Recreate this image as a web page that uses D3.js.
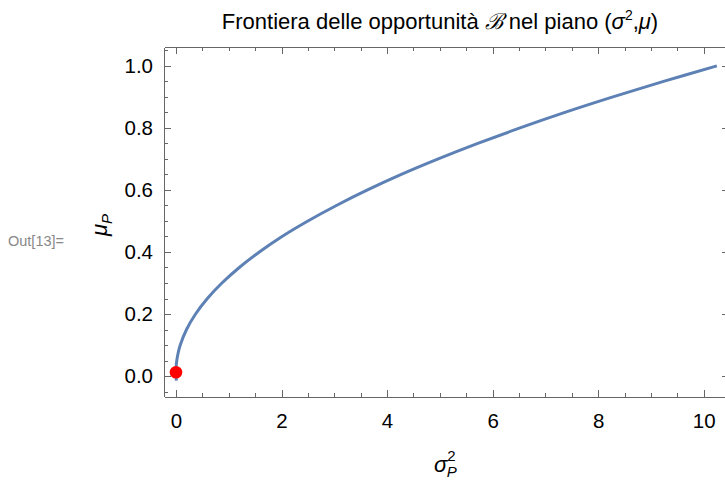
<!DOCTYPE html>
<html lang="it">
<head>
  <meta charset="UTF-8">
  <title>Frontiera delle opportunità</title>
  <script src="https://d3js.org/d3.v7.min.js"></script>
  <style>
    body { margin: 0; background: #fff; }
    svg { display: block; font-family: "Liberation Sans", Arial, sans-serif; }
    .axis path, .axis line { stroke: #666; shape-rendering: crispEdges; }
    .axis text { font-size: 20.5px; fill: #000; font-family: "Liberation Sans", Arial, sans-serif; }
  </style>
</head>
<body>
<div id="chart"></div>
<script>
  // frontier points (mu, sigma^2)
  const muValues = [-0.015, 0.0, 0.012, 0.03, 0.05, 0.075, 0.1, 0.15, 0.2, 0.25, 0.3, 0.35, 0.4, 0.45,
                    0.5, 0.55, 0.6, 0.65, 0.7, 0.75, 0.8, 0.85, 0.9, 0.95, 1.0];
  const varValues = [0.008, 0.0015, 0.0, 0.0034, 0.015, 0.042, 0.081, 0.20, 0.371, 0.595, 0.871, 1.20, 1.58, 2.01,
                     2.50, 3.04, 3.63, 4.27, 4.97, 5.72, 6.52, 7.37, 8.28, 9.24, 10.25];
  // minimum variance point (red dot)
  const minPoint = [0.0, 0.012];

  const xMajor = [0, 2, 4, 6, 8, 10];
  const xMinor = [0.5, 1, 1.5, 2.5, 3, 3.5, 4.5, 5, 5.5, 6.5, 7, 7.5, 8.5, 9, 9.5];
  const yMajor = [0.0, 0.2, 0.4, 0.6, 0.8, 1.0];
  const yMinor = [-0.05, 0.05, 0.1, 0.15, 0.25, 0.3, 0.35, 0.45, 0.5, 0.55, 0.65, 0.7, 0.75, 0.85, 0.9, 0.95, 1.05];

  const W = 725, H = 480;
  const mLeft = 164, mRight = 729, mTop = 47, mBottom = 396.5;

  const svg = d3.select("#chart").append("svg")
    .attr("width", W)
    .attr("height", H);

  svg.append("rect").attr("width", W).attr("height", H).attr("fill", "#fff");

  const x = d3.scaleLinear().domain([-0.227, 10.48]).range([mLeft, mRight]);
  const y = d3.scaleLinear().domain([-0.066, 1.061]).range([mBottom, mTop]);

  // frame axes: major + minor, ticks pointing inward
  function addAxis(axis, transform, cls) {
    return svg.append("g").attr("class", "axis " + cls).attr("transform", transform).call(axis);
  }
  addAxis(d3.axisBottom(x).tickValues(xMinor).tickSizeInner(-4).tickSizeOuter(0).tickFormat(""), `translate(0,${mBottom})`, "xb");
  addAxis(d3.axisBottom(x).tickValues(xMajor).tickSizeInner(-7).tickSizeOuter(0).tickPadding(16.5).tickFormat(d3.format("d")), `translate(0,${mBottom})`, "xb");
  addAxis(d3.axisTop(x).tickValues(xMinor).tickSizeInner(-4).tickSizeOuter(0).tickFormat(""), `translate(0,${mTop})`, "xt");
  addAxis(d3.axisTop(x).tickValues(xMajor).tickSizeInner(-7).tickSizeOuter(0).tickFormat(""), `translate(0,${mTop})`, "xt");
  addAxis(d3.axisLeft(y).tickValues(yMinor).tickSizeInner(-4).tickSizeOuter(0).tickFormat(""), `translate(${mLeft},0)`, "yl");
  addAxis(d3.axisLeft(y).tickValues(yMajor).tickSizeInner(-7).tickSizeOuter(0).tickPadding(11).tickFormat(d3.format(".1f")), `translate(${mLeft},0)`, "yl");
  addAxis(d3.axisRight(y).tickValues(yMinor).tickSizeInner(-4).tickSizeOuter(0).tickFormat(""), `translate(${mRight},0)`, "yr");
  addAxis(d3.axisRight(y).tickValues(yMajor).tickSizeInner(-7).tickSizeOuter(0).tickFormat(""), `translate(${mRight},0)`, "yr");

  // frontier curve
  const pts = muValues.map((m, i) => [varValues[i], m]);
  const line = d3.line()
    .x(d => x(d[0]))
    .y(d => y(d[1]))
    .curve(d3.curveCatmullRom);

  svg.append("path")
    .datum(pts)
    .attr("fill", "none")
    .attr("stroke", "#5E81B5")
    .attr("stroke-width", 3)
    .attr("d", line);

  svg.append("circle")
    .attr("cx", x(minPoint[0]))
    .attr("cy", y(minPoint[1]))
    .attr("r", 6.3)
    .attr("fill", "#ff0000");

  // title
  const title = svg.append("text")
    .attr("x", 440)
    .attr("y", 29)
    .attr("text-anchor", "middle")
    .attr("font-size", 22)
    .attr("fill", "#000");
  title.append("tspan").text("Frontiera delle opportunità ");
  title.append("tspan").attr("font-style", "italic").attr("font-family", "DejaVu Serif, serif").text("ℬ");
  title.append("tspan").text(" nel piano (");
  title.append("tspan").attr("font-style", "italic").text("σ");
  title.append("tspan").attr("font-size", 14).attr("dy", -9).text("2");
  title.append("tspan").attr("dy", 9).text(",");
  title.append("tspan").attr("font-style", "italic").text("μ");
  title.append("tspan").text(")");

  // x label
  const xl = svg.append("text")
    .attr("x", 434)
    .attr("y", 472)
    .attr("font-size", 22)
    .attr("fill", "#000");
  xl.append("tspan").attr("font-style", "italic").text("σ");
  xl.append("tspan").attr("font-size", 15).attr("dy", -11).text("2");
  xl.append("tspan").attr("font-size", 15).attr("font-style", "italic").attr("dx", -9).attr("dy", 16).text("P");

  // y label
  const yl = svg.append("text")
    .attr("transform", "translate(107,236) rotate(-90)")
    .attr("font-size", 22)
    .attr("fill", "#000");
  yl.append("tspan").attr("font-style", "italic").text("μ");
  yl.append("tspan").attr("font-size", 15).attr("font-style", "italic").attr("dy", 5).text("P");

  // notebook output label
  svg.append("text")
    .attr("x", 8)
    .attr("y", 246)
    .attr("font-size", 14.5)
    .attr("fill", "#888")
    .text("Out[13]=");
</script>
</body>
</html>
